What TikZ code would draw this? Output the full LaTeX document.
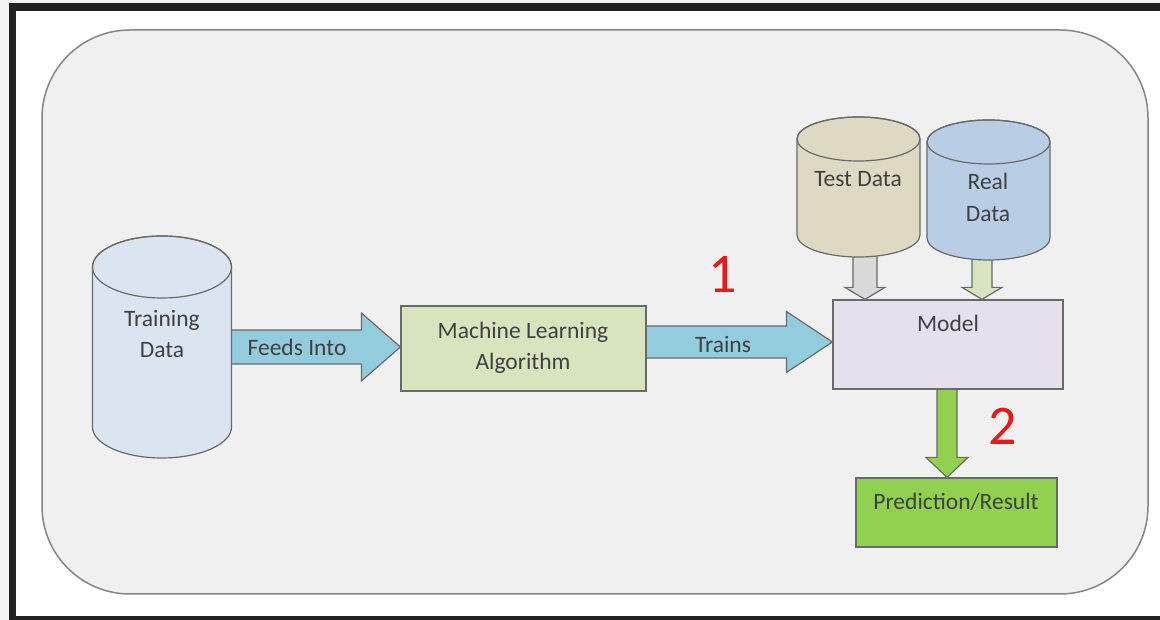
\documentclass[tikz,border=0pt]{standalone}
\usepackage{fontspec}
\setmainfont{Carlito}
\usetikzlibrary{calc}

\definecolor{frame}{HTML}{222222}
\definecolor{outside}{HTML}{F4F4F4}
\definecolor{panel}{HTML}{F0F0F0}
\definecolor{panelline}{HTML}{858585}
\definecolor{edge}{HTML}{6A6A6A}
\definecolor{ink}{HTML}{404040}
\definecolor{aqua}{HTML}{93CDDD}
\definecolor{olive}{HTML}{D7E4BD}
\definecolor{lilac}{HTML}{E6E0EC}
\definecolor{sand}{HTML}{DDD9C3}
\definecolor{steel}{HTML}{B9CDE5}
\definecolor{ice}{HTML}{DBE5F1}
\definecolor{silver}{HTML}{D9D9D9}
\definecolor{leaf}{HTML}{92D050}
\definecolor{signred}{HTML}{E8191B}

\pgfdeclarelayer{under}
\pgfdeclarelayer{arrows}
\pgfsetlayers{under,arrows,main}

\tikzset{
  box/.style={draw=edge, line width=1.2pt, inner sep=0pt},
  lbl/.style={text=ink, font=\fontsize{23.5}{28}\selectfont, anchor=base, inner sep=0pt},
  num/.style={text=signred, font=\fontsize{56}{60}\selectfont, anchor=base, inner sep=0pt},
  drumline/.style={draw=edge, line width=1.2pt},
  blk/.style={draw=edge, line width=1.2pt, line join=miter},
}

% database drum: name, centre x, top-ellipse y, bottom-ellipse y, x radius, y radius, fill
\newcommand{\drum}[7]{%
  \filldraw[drumline, fill=#7]
    ({#2-#5},#3) -- ({#2-#5},#4)
    arc[start angle=180, end angle=360, x radius=#5, y radius=#6]
    -- ({#2+#5},#3)
    arc[start angle=0, end angle=180, x radius=#5, y radius=#6] -- cycle;
  \draw[drumline] (#2,#3) ellipse[x radius=#5, y radius=#6];
  \node[inner sep=0pt, minimum width={2*#5}, minimum height={#3-#4+2*#6}]
    (#1) at (#2,{(#3+#4)/2}) {};
}

% block arrow to the right: from, to, centre y, shaft half, head half, head length, fill
\newcommand{\harrow}[7]{%
  \path[blk, fill=#7] let \p1=(#1.center), \p2=(#2.west) in
    (\x1,#3pt+#4pt) -- (\x2-#6pt,#3pt+#4pt) -- (\x2-#6pt,#3pt+#5pt)
    -- (\x2,#3pt) -- (\x2-#6pt,#3pt-#5pt) -- (\x2-#6pt,#3pt-#4pt)
    -- (\x1,#3pt-#4pt) -- cycle;
}

% block arrow downwards: from, to, centre x, shaft half, head half, head length, fill
\newcommand{\varrow}[7]{%
  \path[blk, fill=#7] let \p1=(#1.center), \p2=(#2.north) in
    (#3pt-#4pt,\y1) -- (#3pt-#4pt,\y2+#6pt) -- (#3pt-#5pt,\y2+#6pt)
    -- (#3pt,\y2) -- (#3pt+#5pt,\y2+#6pt) -- (#3pt+#4pt,\y2+#6pt)
    -- (#3pt+#4pt,\y1) -- cycle;
}

\begin{document}
\begin{tikzpicture}[x=1pt,y=1pt]
\useasboundingbox (0,0) rectangle (1160,620);

\begin{pgfonlayer}{under}
  \fill[outside] (0,0) rectangle (1160,620);
  \fill[frame] (9,0) rectangle (1160,617);
  \fill[white] (16,4) rectangle (1160,609);
  \filldraw[fill=panel, draw=panelline, line width=1.5pt, rounded corners=88pt]
    (42,26) rectangle (1148,590);
\end{pgfonlayer}

% data stores
\drum{train}{162}{353}{193}{69.5}{31}{ice}
\drum{testd}{858.5}{481}{385}{61.5}{22}{sand}
\drum{reald}{988.5}{478}{382}{61.5}{22}{steel}

% process boxes
\node[box, fill=olive, minimum width=245pt, minimum height=85pt] (ml) at (523.5,271.5) {};
\node[box, fill=lilac, minimum width=230pt, minimum height=89pt] (model) at (948,275.5) {};
\node[box, fill=leaf, minimum width=201pt, minimum height=69pt] (pred) at (956.5,107.5) {};

% flow arrows, kept behind the shapes they leave
\begin{pgfonlayer}{arrows}
  \harrow{train}{ml}{273}{17}{34}{39}{aqua}
  \harrow{ml}{model}{278}{16}{30.5}{46}{aqua}
  \varrow{testd}{model}{865}{12}{20}{12}{silver}
  \varrow{reald}{model}{982}{10}{20}{12}{olive}
  \varrow{model}{pred}{947}{10}{21}{20}{leaf}
\end{pgfonlayer}

% labels
\node[lbl] (t1) at (162,293) {Training};
\node[lbl] (t2) at (162,262) {Data};
\node[lbl] (feed) at (297,264) {Feeds Into};
\node[lbl] (m1) at (523,281) {Machine Learning};
\node[lbl] (m2) at (523,250) {Algorithm};
\node[lbl] (tr) at (723,267) {Trains};
\node[lbl] (mo) at (948,288) {Model};
\node[lbl] (td) at (858,433) {Test Data};
\node[lbl] (r1) at (988,430) {Real};
\node[lbl] (r2) at (988,398) {Data};
\node[lbl] (pr) at (956,110) {Prediction/Result};

% step numbers
\node[num] (n1) at (723,327) {1};
\node[num] (n2) at (1003,175) {2};
\end{tikzpicture}
\end{document}
